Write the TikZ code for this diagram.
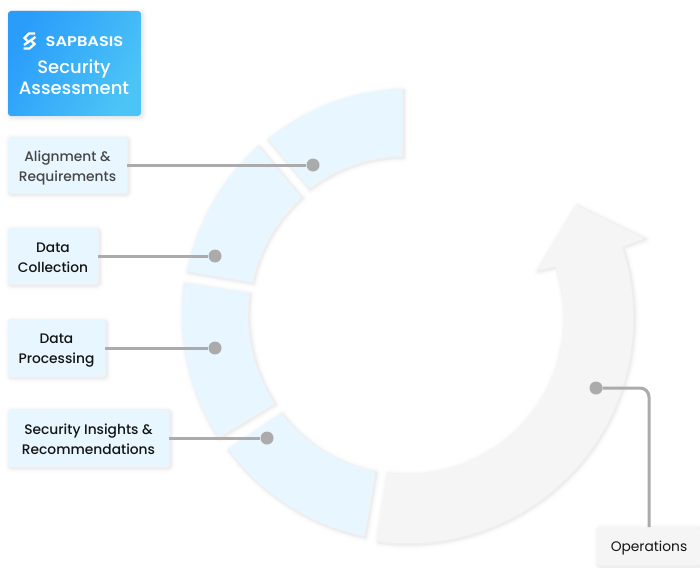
\documentclass[tikz,border=0pt]{standalone}
\usepackage{fontspec}
\setmainfont{Poppins}
\newfontfamily\medfont{Poppins Medium}
\newfontfamily\brandfont[FakeStretch=1.16]{Poppins SemiBold}
\definecolor{segblue}{HTML}{E8F7FF}
\definecolor{seggray}{HTML}{F5F5F5}
\definecolor{linegray}{HTML}{ABABAB}
\definecolor{hdA}{HTML}{2A9DFB}
\definecolor{hdB}{HTML}{4CC4F6}
\tikzset{
  softshadow/.style={
    preaction={draw=black,draw opacity=.008,line width=10pt,line join=round,transform canvas={shift={(1.5pt,-1.5pt)}}},
    preaction={draw=black,draw opacity=.012,line width=7pt,line join=round,transform canvas={shift={(1.5pt,-1.5pt)}}},
    preaction={draw=black,draw opacity=.018,line width=4.5pt,line join=round,transform canvas={shift={(1.5pt,-1.5pt)}}},
    preaction={draw=black,draw opacity=.026,line width=2.5pt,line join=round,transform canvas={shift={(1.5pt,-1.5pt)}}}
  },
  segment/.style={fill=segblue,softshadow},
  arrowshape/.style={fill=seggray,softshadow},
  labelbox/.style={fill=segblue,rounded corners=2.5pt,softshadow,inner sep=0pt},
  labeltext/.style={align=center,inner sep=0pt,font=\fontsize{13.8}{20}\selectfont\medfont,text=black!92},
  conn/.style={draw=linegray,line width=3pt},
  dot/.style={circle,fill=linegray,inner sep=0pt,minimum size=13pt},
  logostroke/.style={draw=white,line width=2.3pt,line join=miter}
}
\begin{document}
\begin{tikzpicture}[x=1pt,y=-1pt]
\useasboundingbox (0,0) rectangle (700,567);
\fill[white] (0,0) rectangle (700,567);
% segments
\path[segment] (402,89) -- (402,156) to[bend right=18,looseness=.9] (309,188) -- (268,139) to[bend left=18,looseness=.9] cycle;
\path[segment] (258,146) -- (301,197) to[bend right=18,looseness=.88] (252,282) -- (187,271) to[bend left=18,looseness=.88] cycle;
\path[segment] (184,283) -- (249,293) to[bend left=-20,looseness=.88] (274,403) -- (218,437) to[bend left=20,looseness=.88] cycle;
\path[segment] (281,413) -- (228,449) to[bend right=21,looseness=.88] (364,536) -- (375,471) to[bend left=21,looseness=.88] cycle;
% arrow
\path[arrowshape] (377,538)
  -- plot[domain=97.5:-18.3,samples=70] ({407+226*cos(\x)},{317+226*sin(\x)})
  -- (644,238) -- (576,205) -- (537,270) -- (559,265)
  -- plot[domain=-18.9:97.3,samples=70] ({407+157*cos(\x)},{317+157*sin(\x)})
  -- cycle;
% boxes
\node[labelbox,minimum width=119pt,minimum height=56pt] (b1) at (67.5,165) {};
\node[labeltext,text=black!72] (t1) at (67.5,167.5) {Alignment \&\\Requirements};
\node[labelbox,minimum width=90pt,minimum height=56pt] (b2) at (53,256) {};
\node[labeltext] (t2) at (53,257.5) {Data\\Collection};
\node[labelbox,minimum width=97pt,minimum height=57pt] (b3) at (56.5,348) {};
\node[labeltext] (t3) at (56.5,350.5) {Data\\Processing};
\node[labelbox,minimum width=161pt,minimum height=57pt] (b4) at (88.5,438) {};
\node[labeltext] (t4) at (88.5,439.5) {Security Insights \&\\Recommendations};
\node[labelbox,fill=seggray,minimum width=103pt,minimum height=38pt] (b5) at (648.5,546) {};
\node[labeltext,font=\fontsize{13.8}{20}\selectfont] (t5) at (649,548) {Operations};
\node[rounded corners=3pt,left color=hdA,right color=hdB,shading angle=60,softshadow,minimum width=133pt,minimum height=105pt,inner sep=0pt] (hd) at (74.5,63.5) {};
\node[text=white,font=\fontsize{18}{21}\selectfont\medfont,align=center,inner sep=0pt] (title) at (74,77) {Security\\Assessment};
\node[text=white,font=\fontsize{14}{16}\selectfont\brandfont,inner sep=0pt] (brand) at (84.5,41.5) {SAPBASIS};
\path[logostroke] (35,33.5) -- (29,33.5) -- (24.5,38) -- (27.5,41);
\path[logostroke] (35.5,37) -- (24,45);
\path[logostroke] (23.5,48.5) -- (29.5,48.5) -- (34.5,44) -- (31.5,41);
% dots
\node[dot] (d1) at (313,165) {};
\node[dot] (d2) at (215,256) {};
\node[dot] (d3) at (215,348) {};
\node[dot] (d4) at (267,438) {};
\node[dot] (d5) at (596,388) {};
\draw[conn] (b1.east) -- (d1);
\draw[conn] (b2.east) -- (d2);
\draw[conn] (b3.east) -- (d3);
\draw[conn] (b4.east) -- (d4);
\draw[conn,rounded corners=9pt] (d5) -- (649,388) -- (649,527);
\end{tikzpicture}
\end{document}
